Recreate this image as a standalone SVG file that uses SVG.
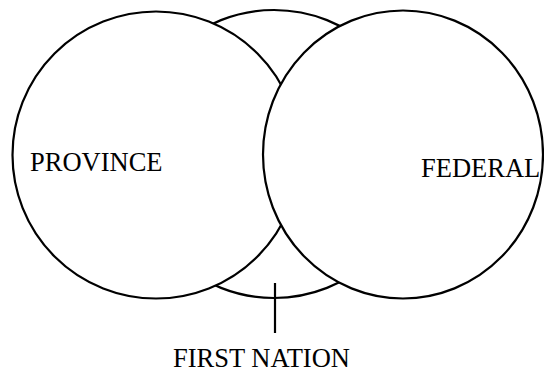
<svg xmlns="http://www.w3.org/2000/svg" width="544" height="375" viewBox="0 0 544 375">
<style>
.c{fill:#fff;stroke:#000;stroke-width:2.2}
.t{font-family:"Liberation Serif","Times New Roman",serif;font-size:26.5px;fill:#000}
.l{stroke:#000;stroke-width:2.2}
</style>
<rect width="544" height="375" fill="#fff"/>
<g id="first-nation">
<circle class="c" cx="274" cy="154" r="144"/>
</g>
<g id="province">
<circle class="c" cx="156" cy="155" r="143.5"/>
<text class="t" x="30" y="171">PROVINCE</text>
</g>
<g id="federal">
<ellipse class="c" cx="403" cy="154.5" rx="140" ry="144"/>
<text class="t" x="421" y="177">FEDERAL</text>
</g>
<g id="connectors">
<line class="l" x1="275" y1="283" x2="275" y2="333"/>
</g>
<g id="first-nation-label">
<text class="t" x="173" y="367">FIRST NATION</text>
</g>
</svg>
